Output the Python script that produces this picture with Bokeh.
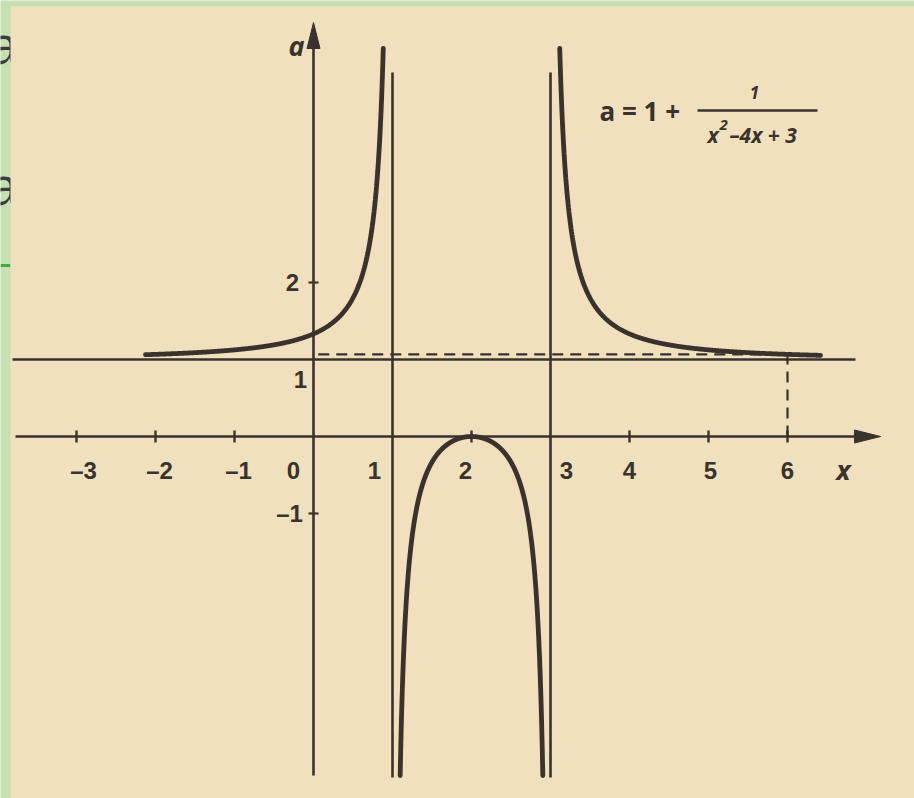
import numpy as np
from bokeh.plotting import figure
from bokeh.models import Range1d, ColumnDataSource
from bokeh.core.properties import value
from bokeh.embed import file_html
from bokeh.resources import INLINE

# a = 1 + 1 / (x^2 - 4x + 3)
const_term = 1.0
quad_coef = [1.0, -4.0, 3.0]          # x^2 - 4x + 3
asymptotes_x = [1.0, 3.0]
asymptote_a = 1.0

x_ticks = [-3, -2, -1, 2, 4, 5, 6]
x_tick_labels = ["–3", "–2", "–1", "0", "1", "2", "3", "4", "5", "6"]
x_tick_label_pos = [-3, -2, -1, 0, 1, 2, 3, 4, 5, 6]
y_ticks = [2, -1]
y_tick_labels = ["2", "1", "–1"]
y_tick_label_pos = [2, 1, -1]
marked_x = 6.0                         # point marked with dashed guides

# drawing scale (pixels per unit) and origin placement on the canvas
W, H = 914, 798
X0, UX = 313.0, 79.0
Y0, UY = 436.0, 77.0

INK = "#3a322c"
PAPER = "#f0e0bd"
SLIDE = "#c6e0b1"
FONT = value("Liberation Sans")
IFONT = value("Open Sans")


def px_x(px):
    return (px - X0) / UX


def px_y(py):
    return (Y0 - py) / UY


def a_of(x):
    q = quad_coef[0] * x**2 + quad_coef[1] * x + quad_coef[2]
    return const_term + 1.0 / q


p = figure(width=W, height=H, output_backend="svg", toolbar_location=None,
           x_range=Range1d(px_x(0), px_x(W)), y_range=Range1d(px_y(H), px_y(0)),
           min_border=0, outline_line_color=None)
p.axis.visible = False
p.grid.visible = False
p.background_fill_color = SLIDE
p.border_fill_color = SLIDE

# slide fragments on the left margin (partly hidden by the page)
p.text(x=[px_x(18), px_x(18)], y=[px_y(44), px_y(185)], text=["a", "a"],
       text_align="right", text_baseline="middle", text_color="#3c3c3c",
       text_font=FONT, text_font_size="54px")
p.line(x=[px_x(0), px_x(10)], y=[px_y(265), px_y(265)], line_color="#3fae3f",
       line_width=3)

# page of the book
p.quad(left=[px_x(10)], right=[px_x(W + 5)], top=[px_y(6)], bottom=[px_y(H + 5)],
       fill_color=PAPER, line_color=None)

# axes
top_a = px_y(22)
bot_a = px_y(775)
right_x = px_x(880)
head_len, head_half = 26.0, 6.5
p.line(x=[0, 0], y=[bot_a, top_a - head_len / UY * 0.6], line_color=INK,
       line_width=2.6)
p.patch(x=[0, -head_half / UX, head_half / UX],
        y=[top_a, top_a - head_len / UY, top_a - head_len / UY],
        fill_color=INK, line_color=INK)
p.line(x=[px_x(15), right_x - head_len / UX * 0.6], y=[0, 0], line_color=INK,
       line_width=2.6)
p.patch(x=[right_x, right_x - head_len / UX, right_x - head_len / UX],
        y=[0, head_half / UY, -head_half / UY], fill_color=INK, line_color=INK)

# tick marks
p.segment(x0=x_ticks, x1=x_ticks, y0=[-6 / UY] * len(x_ticks),
          y1=[6 / UY] * len(x_ticks), line_color=INK, line_width=2.4)
p.segment(x0=[-5 / UX] * len(y_ticks), x1=[5 / UX] * len(y_ticks),
          y0=y_ticks, y1=y_ticks, line_color=INK, line_width=2.2)

# asymptotes
for xa in asymptotes_x:
    p.line(x=[xa, xa], y=[px_y(777), px_y(72)], line_color=INK, line_width=2.6)
p.line(x=[px_x(12), px_x(855)], y=[asymptote_a, asymptote_a],
       line_color=INK, line_width=2.4)

# dashed guides to the point x = 6
a_mark = a_of(marked_x)
p.line(x=[0.06, marked_x], y=[a_mark, a_mark], line_color=INK, line_width=2.2,
       line_dash="11 7")
p.line(x=[marked_x, marked_x], y=[0, a_mark], line_color=INK, line_width=2.2,
       line_dash="11 7")

# curve, three branches
a_top, a_bot = px_y(48), px_y(775)
x_left_end = 2 - np.sqrt(1 + 1 / (a_top - 1))
x_right_start = 2 + np.sqrt(1 + 1 / (a_top - 1))
x_mid = np.sqrt(1 + 1 / (a_bot - 1))

branches = [
    np.linspace(px_x(145), x_left_end, 600),
    np.linspace(2 - x_mid, 2 + x_mid, 800),
    np.linspace(x_right_start, px_x(820), 600),
]
for xs in branches:
    p.line(x=xs, y=a_of(xs), line_color=INK, line_width=4.8, line_cap="round")

# tick labels
x_nudge = {-3: 7, -2: 4, -1: 4, 0: -20, 1: -18, 2: -6, 3: 16, 4: 0, 5: 2, 6: 0}
xl = ColumnDataSource(dict(
    x=[t + x_nudge[t] / UX for t in x_tick_label_pos],
    y=[px_y(470)] * len(x_tick_label_pos),
    t=x_tick_labels))
p.text(x="x", y="y", text="t", source=xl, text_align="center",
       text_baseline="middle", text_color=INK, text_font=FONT,
       text_font_style="bold", text_font_size="24px")

y_nudge = {2: (-21, 0), 1: (-13, 20), -1: (-24, 0)}
yl = ColumnDataSource(dict(
    x=[y_nudge[t][0] / UX for t in y_tick_label_pos],
    y=[t - y_nudge[t][1] / UY for t in y_tick_label_pos],
    t=y_tick_labels))
p.text(x="x", y="y", text="t", source=yl, text_align="center",
       text_baseline="middle", text_color=INK, text_font=FONT,
       text_font_style="bold", text_font_size="24px")

# axis names
p.text(x=[px_x(296), px_x(843)], y=[px_y(45), px_y(469)], text=["a", "x"],
       text_align="center", text_baseline="middle", text_color=INK,
       text_font=IFONT, text_font_style="bold italic", text_font_size="27px")

# formula
p.text(x=[px_x(599)], y=[px_y(110)], text=["a = 1 +"], text_align="left",
       text_baseline="middle", text_color=INK, text_font=IFONT,
       text_font_style="bold", text_font_size="26px")
p.line(x=[px_x(697), px_x(817)], y=[px_y(110), px_y(110)], line_color=INK,
       line_width=2.4)
p.text(x=[px_x(754)], y=[px_y(92)], text=["1"], text_align="center",
       text_baseline="middle", text_color=INK, text_font=IFONT,
       text_font_style="bold italic", text_font_size="17px")
p.text(x=[px_x(707), px_x(719), px_x(729)],
       y=[px_y(134), px_y(124), px_y(134)],
       text=["x", "2", "–4x + 3"], text_align="left",
       text_baseline="middle", text_color=INK, text_font=IFONT,
       text_font_style="bold italic",
       text_font_size=["21px", "15px", "21px"])

open("out.html", "w").write(file_html(p, INLINE))
